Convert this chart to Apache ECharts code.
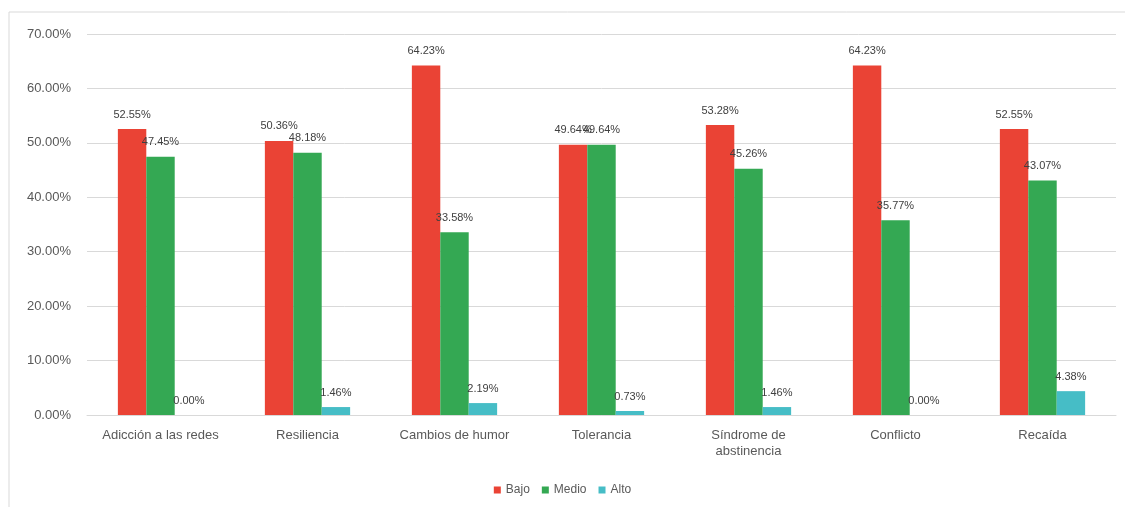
<!DOCTYPE html>
<html><head><meta charset="utf-8">
<script src="https://cdn.jsdelivr.net/npm/echarts@6/dist/echarts.min.js"></script>
<style>html,body{margin:0;padding:0;background:#fff}#c{width:1125px;height:507px}</style>
</head><body><div id="c"></div>
<script>
const categories = ["Adicción a las redes","Resiliencia","Cambios de humor","Tolerancia","Síndrome de\nabstinencia","Conflicto","Recaída"];
const bajo  = [52.55, 50.36, 64.23, 49.64, 53.28, 64.23, 52.55];
const medio = [47.45, 48.18, 33.58, 49.64, 45.26, 35.77, 43.07];
const alto  = [0.00, 1.46, 2.19, 0.73, 1.46, 0.00, 4.38];
const seriesNames = ["Bajo","Medio","Alto"];
const colors = ["#EA4335","#34A853","#46BDC6"];
const font = "Liberation Sans, Arial, sans-serif";
const chart = echarts.init(document.getElementById('c'));
const lbl = {show:true, position:'top', distance:9, color:'#404040', fontSize:11, fontFamily:font,
  formatter:p=>p.value.toFixed(2)+'%'};
chart.setOption({
  animation:false,
  graphic:[{type:'rect', shape:{x:9,y:12,width:1130,height:520}, style:{fill:'none', stroke:'#d9d9d9', lineWidth:1}}],
  grid:{left:87, right:9, top:34, bottom:92},
  legend:{bottom:6, left:'center', itemWidth:7, itemHeight:7, itemGap:12, icon:'rect',
    textStyle:{color:'#595959', fontSize:12, fontFamily:font}, data:seriesNames},
  xAxis:{type:'category', data:categories,
    axisLine:{lineStyle:{color:'#d9d9d9'}}, axisTick:{show:false},
    axisLabel:{color:'#595959', fontSize:13, fontFamily:font, margin:12, interval:0, lineHeight:16}},
  yAxis:{type:'value', min:0, max:70, interval:10,
    axisLabel:{color:'#595959', fontSize:13, fontFamily:font, margin:16, formatter:v=>v.toFixed(2)+'%'},
    splitLine:{lineStyle:{color:'#d9d9d9'}}, axisLine:{show:false}, axisTick:{show:false}},
  series:[
    {name:seriesNames[0], type:'bar', data:bajo, itemStyle:{color:colors[0]}, barGap:'0%', barCategoryGap:'42%', label:lbl},
    {name:seriesNames[1], type:'bar', data:medio, itemStyle:{color:colors[1]}, barGap:'0%', barCategoryGap:'42%', label:lbl},
    {name:seriesNames[2], type:'bar', data:alto, itemStyle:{color:colors[2]}, barGap:'0%', barCategoryGap:'42%', label:lbl}
  ]
});
</script></body></html>
